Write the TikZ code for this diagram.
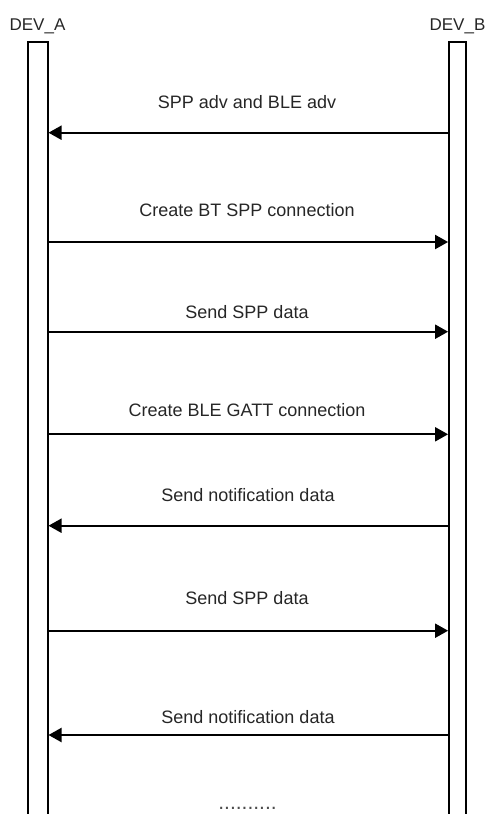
\documentclass[tikz,border=0pt]{standalone}
\usepackage{fontspec}
\setmainfont{Liberation Sans}
\usepackage{xcolor}
\usepackage{tikz}
\usetikzlibrary{arrows.meta}

\begin{document}
\begin{tikzpicture}[
  x=1pt, y=-1pt,
  lifeline/.style={draw, line width=2pt, rectangle, anchor=north, minimum height=820pt, inner sep=0pt},
  devlabel/.style={anchor=base, text=black!85, font=\fontsize{17}{20}\selectfont},
  msglabel/.style={anchor=base, text=black!85, font=\fontsize{18}{21}\selectfont},
  msg/.style={line width=2pt, -{Triangle[length=13pt, width=14pt]}}]

\useasboundingbox (0,0) rectangle (487,814);

% devices
\node[devlabel] (nameA) at (37.5,30) {DEV\_A};
\node[devlabel] (nameB) at (457.5,30) {DEV\_B};
\node[lifeline, minimum width=20pt] (devA) at (37.5,41) {};
\node[lifeline, minimum width=17pt] (devB) at (457.6,41) {};

% message rows
\coordinate (r1) at (0,132.7);
\coordinate (r2) at (0,242);
\coordinate (r3) at (0,331.7);
\coordinate (r4) at (0,434.3);
\coordinate (r5) at (0,525.7);
\coordinate (r6) at (0,630.7);
\coordinate (r7) at (0,735);

\draw[msg] (devB.west |- r1) -- (devA.east |- r1);
\draw[msg] (devA.east |- r2) -- (devB.west |- r2);
\draw[msg] (devA.east |- r3) -- (devB.west |- r3);
\draw[msg] (devA.east |- r4) -- (devB.west |- r4);
\draw[msg] (devB.west |- r5) -- (devA.east |- r5);
\draw[msg] (devA.east |- r6) -- (devB.west |- r6);
\draw[msg] (devB.west |- r7) -- (devA.east |- r7);

% labels
\node[msglabel] (lbl1) at (247,108.3) {SPP adv and BLE adv};
\node[msglabel] (lbl2) at (247,216.7) {Create BT SPP connection};
\node[msglabel] (lbl3) at (247,318.3) {Send SPP data};
\node[msglabel] (lbl4) at (247,416.7) {Create BLE GATT connection};
\node[msglabel] (lbl5) at (248,501.7) {Send notification data};
\node[msglabel] (lbl6) at (247,604) {Send SPP data};
\node[msglabel] (lbl7) at (248,723.3) {Send notification data};
\node[msglabel, inner sep=0pt, text=black!70, font=\fontsize{21}{24}\selectfont] (more) at (247.5,809) {..........};
\end{tikzpicture}
\end{document}
